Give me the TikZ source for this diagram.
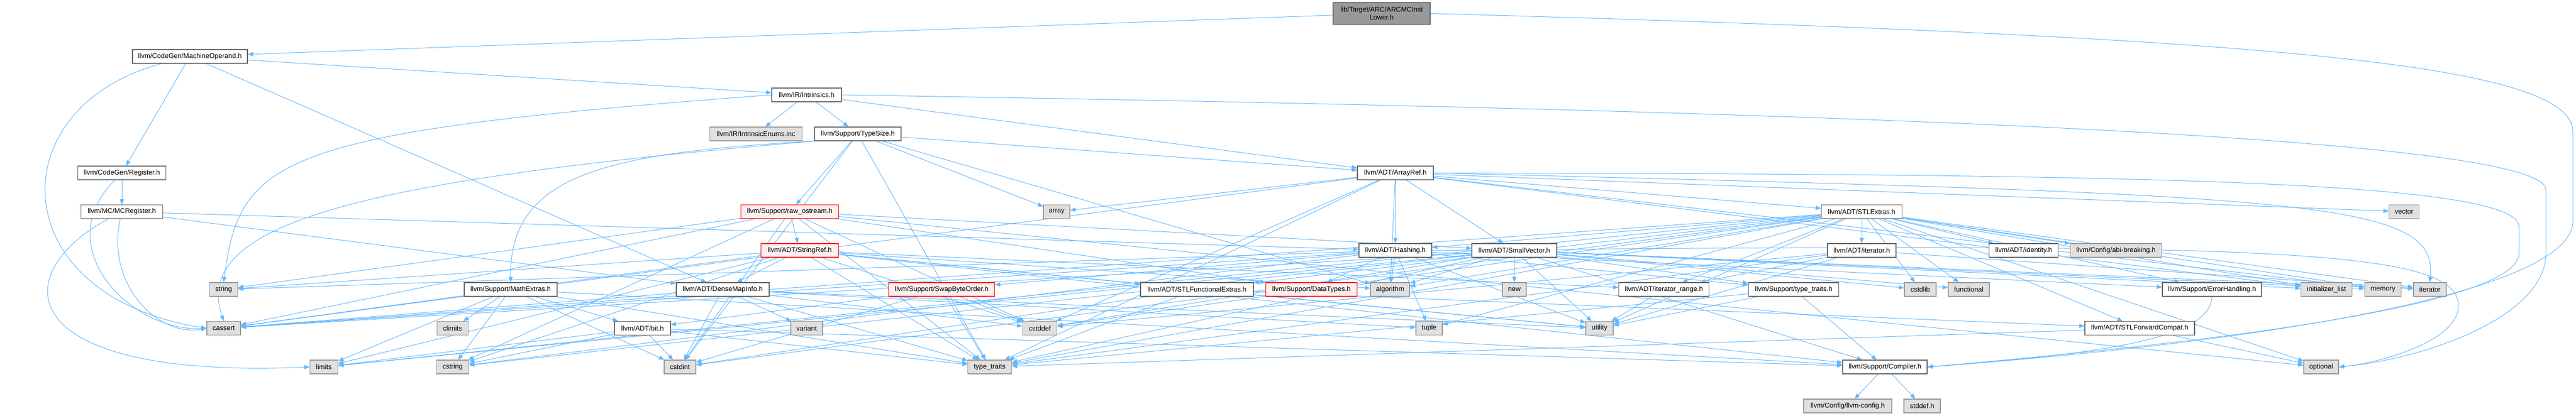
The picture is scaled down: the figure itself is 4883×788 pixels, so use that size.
\documentclass[tikz,border=0pt]{standalone}
\usepackage{fontspec}
\setmainfont{Liberation Sans}
\usetikzlibrary{arrows.meta}
\definecolor{edgeblue}{HTML}{63B8FF}
\definecolor{nodeborder}{HTML}{666666}
\definecolor{extfill}{HTML}{E0E0E0}
\definecolor{extborder}{HTML}{999999}
\definecolor{redfill}{HTML}{FFF0F0}
\definecolor{topfill}{HTML}{999999}
\pgfdeclarelayer{background}
\pgfsetlayers{background,main}
\begin{document}
\begin{tikzpicture}[x=1pt,y=-1pt,
  box/.style={draw=nodeborder, fill=white, line width=1.3pt, rectangle, minimum height=26pt, inner sep=0pt, font=\fontsize{13}{15}\selectfont},
  ext/.style={box, draw=extborder, fill=extfill},
  trunc/.style={box, draw=red, fill=redfill},
  topn/.style={box, fill=topfill, minimum height=41pt, align=center},
  edge/.style={draw=edgeblue, line width=1pt, -{Triangle[length=10pt,width=8pt]}}]
\begin{pgfonlayer}{background}
\fill[white] (0,0) rectangle (4883,788);
\end{pgfonlayer}
\useasboundingbox (0,0) rectangle (4883,788);
% row 0
\node[topn, minimum width=184pt] (top) at (2619,25.5) {lib/Target/ARC/ARCMCInst\\Lower.h};
% row 1
\node[box, minimum width=218pt] (MO) at (360,107) {llvm/CodeGen/MachineOperand.h};
% row 2
\node[box, minimum width=132pt] (Intr) at (1529,180) {llvm/IR/Intrinsics.h};
% row 3
\node[ext, minimum width=175pt] (IEnum) at (1433,254) {llvm/IR/IntrinsicEnums.inc};
\node[box, minimum width=164pt] (TS) at (1626,254) {llvm/Support/TypeSize.h};
% row 4
\node[box, minimum width=167pt] (Reg) at (231,328) {llvm/CodeGen/Register.h};
\node[box, minimum width=144pt] (AR) at (2645,328) {llvm/ADT/ArrayRef.h};
% row 5
\node[box, minimum width=155pt] (MCR) at (231,401.5) {llvm/MC/MCRegister.h};
\node[trunc, minimum width=185pt] (ros) at (1497,401.5) {llvm/Support/raw\_ostream.h};
\node[ext, minimum width=50pt] (arr) at (2003,401.5) {array};
\node[box, minimum width=153pt] (STLE) at (3529,401.5) {llvm/ADT/STLExtras.h};
\node[ext, minimum width=57pt] (vec) at (4557,401.5) {vector};
% row 6
\node[trunc, minimum width=147pt] (SR) at (1516,475) {llvm/ADT/StringRef.h};
\node[box, minimum width=138pt] (Hash) at (2645,475) {llvm/ADT/Hashing.h};
\node[box, minimum width=161pt] (SV) at (2870.5,475) {llvm/ADT/SmallVector.h};
\node[box, minimum width=130pt] (itH) at (3529,475) {llvm/ADT/iterator.h};
\node[box, minimum width=131pt] (idH) at (3836,475) {llvm/ADT/identity.h};
\node[ext, minimum width=173pt] (abi) at (4011,475) {llvm/Config/abi-breaking.h};
% row 7
\node[ext, minimum width=53pt] (str) at (424,549) {string};
\node[box, minimum width=176pt] (ME) at (968,549) {llvm/Support/MathExtras.h};
\node[box, minimum width=176pt] (DMI) at (1370,549) {llvm/ADT/DenseMapInfo.h};
\node[trunc, minimum width=201pt] (SBO) at (1785,549) {llvm/Support/SwapByteOrder.h};
\node[box, minimum width=214pt] (SFE) at (2269,549) {llvm/ADT/STLFunctionalExtras.h};
\node[trunc, minimum width=173pt] (DT) at (2486,549) {llvm/Support/DataTypes.h};
\node[ext, minimum width=74pt] (alg) at (2635,549) {algorithm};
\node[ext, minimum width=45pt] (nw) at (2870.5,549) {new};
\node[box, minimum width=171pt] (itr) at (3154,549) {llvm/ADT/iterator\_range.h};
\node[box, minimum width=171pt] (stt) at (3400,549) {llvm/Support/type\_traits.h};
\node[ext, minimum width=60pt] (cstdlib) at (3640,549) {cstdlib};
\node[ext, minimum width=78pt] (func) at (3732,549) {functional};
\node[box, minimum width=188pt] (EH) at (4193,549) {llvm/Support/ErrorHandling.h};
\node[ext, minimum width=97pt] (initl) at (4410,549) {initializer\_list};
\node[ext, minimum width=69pt] (mem) at (4517,549) {memory};
\node[ext, minimum width=62pt] (iter) at (4606,549) {iterator};
% row 8
\node[ext, minimum width=64pt] (cassert) at (424,622.6) {cassert};
\node[ext, minimum width=59pt] (climits) at (858,622.6) {climits};
\node[box, minimum width=106pt] (bit) at (1218,622.6) {llvm/ADT/bit.h};
\node[ext, minimum width=60pt] (variant) at (1529,622.6) {variant};
\node[ext, minimum width=65pt] (cstddef) at (1971,622.6) {cstddef};
\node[ext, minimum width=50pt] (tuple) at (2709,622.6) {tuple};
\node[ext, minimum width=52pt] (utility) at (3032,622.6) {utility};
\node[box, minimum width=208pt] (SFC) at (4056,622.6) {llvm/ADT/STLForwardCompat.h};
% row 9
\node[ext, minimum width=53pt] (limits) at (614,696) {limits};
\node[ext, minimum width=61pt] (cstring) at (858,696) {cstring};
\node[ext, minimum width=60pt] (cstdint) at (1289,696) {cstdint};
\node[ext, minimum width=83pt] (tt) at (1876,696) {type\_traits};
\node[box, minimum width=160pt] (Comp) at (3573,696) {llvm/Support/Compiler.h};
\node[ext, minimum width=66pt] (opt) at (4400,696) {optional};
% row 10
\node[ext, minimum width=167pt] (lcfg) at (3502.5,770) {llvm/Config/llvm-config.h};
\node[ext, minimum width=69pt] (stddef) at (3643.5,770) {stddef.h};

\begin{pgfonlayer}{background}
\foreach \s/\t in {top/MO,
  MO/Reg, MO/Intr, MO/DMI,
  Intr/IEnum, Intr/TS, Intr/AR,
  TS/AR, TS/ros, TS/alg, TS/arr, TS/cstdint, TS/tt,
  Reg/MCR,
  AR/Hash, AR/SV, AR/STLE, AR/alg, AR/arr, AR/cassert, AR/cstddef, AR/initl, AR/mem, AR/tt, AR/vec,
  MCR/DMI, MCR/Hash,
  ros/SR, ros/SV, ros/DT, ros/cassert, ros/cstddef, ros/cstdint, ros/cstring, ros/str, ros/tt, ros/opt,
  SR/DMI, SR/SFE, SR/itr, SR/Comp, SR/alg, SR/cassert, SR/cstddef, SR/cstring, SR/limits, SR/str, SR/tt, SR/utility,
  Hash/DT, Hash/EH, Hash/SBO, Hash/stt, Hash/alg, Hash/cassert, Hash/cstring, Hash/str, Hash/tuple, Hash/utility,
  SV/Comp, SV/stt, SV/alg, SV/cassert, SV/cstddef, SV/cstdlib, SV/cstring, SV/func, SV/initl, SV/iter, SV/limits, SV/mem, SV/nw, SV/tt, SV/utility,
  STLE/Hash, STLE/SFC, STLE/SFE, STLE/idH, STLE/itH, STLE/itr, STLE/abi, STLE/EH, STLE/alg, STLE/cassert, STLE/cstddef, STLE/cstdint, STLE/cstdlib, STLE/func, STLE/initl, STLE/iter, STLE/limits, STLE/mem, STLE/opt, STLE/tuple, STLE/tt, STLE/utility,
  itH/itr, itH/cstddef, itH/iter, itH/tt, itH/utility,
  ME/bit, ME/Comp, ME/cassert, ME/climits, ME/cstdint, ME/cstring, ME/limits, ME/tt,
  DMI/cassert, DMI/cstddef, DMI/cstdint, DMI/tuple, DMI/tt, DMI/utility, DMI/variant,
  SBO/bit, SBO/cstddef, SBO/cstdint, SBO/tt,
  SFE/SFC, SFE/cstdint, SFE/tt, SFE/utility,
  itr/utility,
  stt/Comp, stt/tt, stt/utility,
  bit/Comp, bit/cstdint, bit/cstring, bit/limits, bit/tt,
  SFC/opt, SFC/tt,
  Comp/lcfg, Comp/stddef}
  \draw[edge] (\s) -- (\t);
% curved routes
\draw[edge] (MO) .. controls (0,200) and (0,560) .. (cassert.west);
\draw[edge] (Reg) .. controls (90,470) and (250,630) .. (cassert.west);
\draw[edge] (MCR) .. controls (200,540) and (300,640) .. (cassert.west);
\draw[edge] (MCR) .. controls (10,520) and (20,720) .. (limits.west);
\draw[edge] (Intr.west) .. controls (520,250) and (455,300) .. (str.north);
\draw[edge] (TS.south west) .. controls (1150,290) and (965,330) .. (ME.north);
\draw[edge] (TS.south west) .. controls (700,340) and (360,420) .. (cassert.north);
\draw[edge] (top.east) .. controls (4300,70) and (4877,120) .. (4877,250) -- (4877,420) .. controls (4877,540) and (4400,640) .. (Comp.east);
\draw[edge] (Intr.east) .. controls (3500,210) and (4826,260) .. (4826,360) -- (4826,480) .. controls (4826,600) and (4600,680) .. (opt.east);
\draw[edge] (AR.east) .. controls (4000,330) and (4775,340) .. (4775,430) -- (4775,480) .. controls (4775,570) and (4300,640) .. (Comp.east);
\draw[edge] (Hash.east) .. controls (4300,460) and (4660,470) .. (4660,580) .. controls (4660,650) and (4500,690) .. (opt.east);
\draw[edge] (AR.east) .. controls (4400,370) and (4620,380) .. (iter.north);
\draw[edge] (EH.south) .. controls (4190,640) and (4000,670) .. (Comp.east);
\end{pgfonlayer}
\end{tikzpicture}
\end{document}
